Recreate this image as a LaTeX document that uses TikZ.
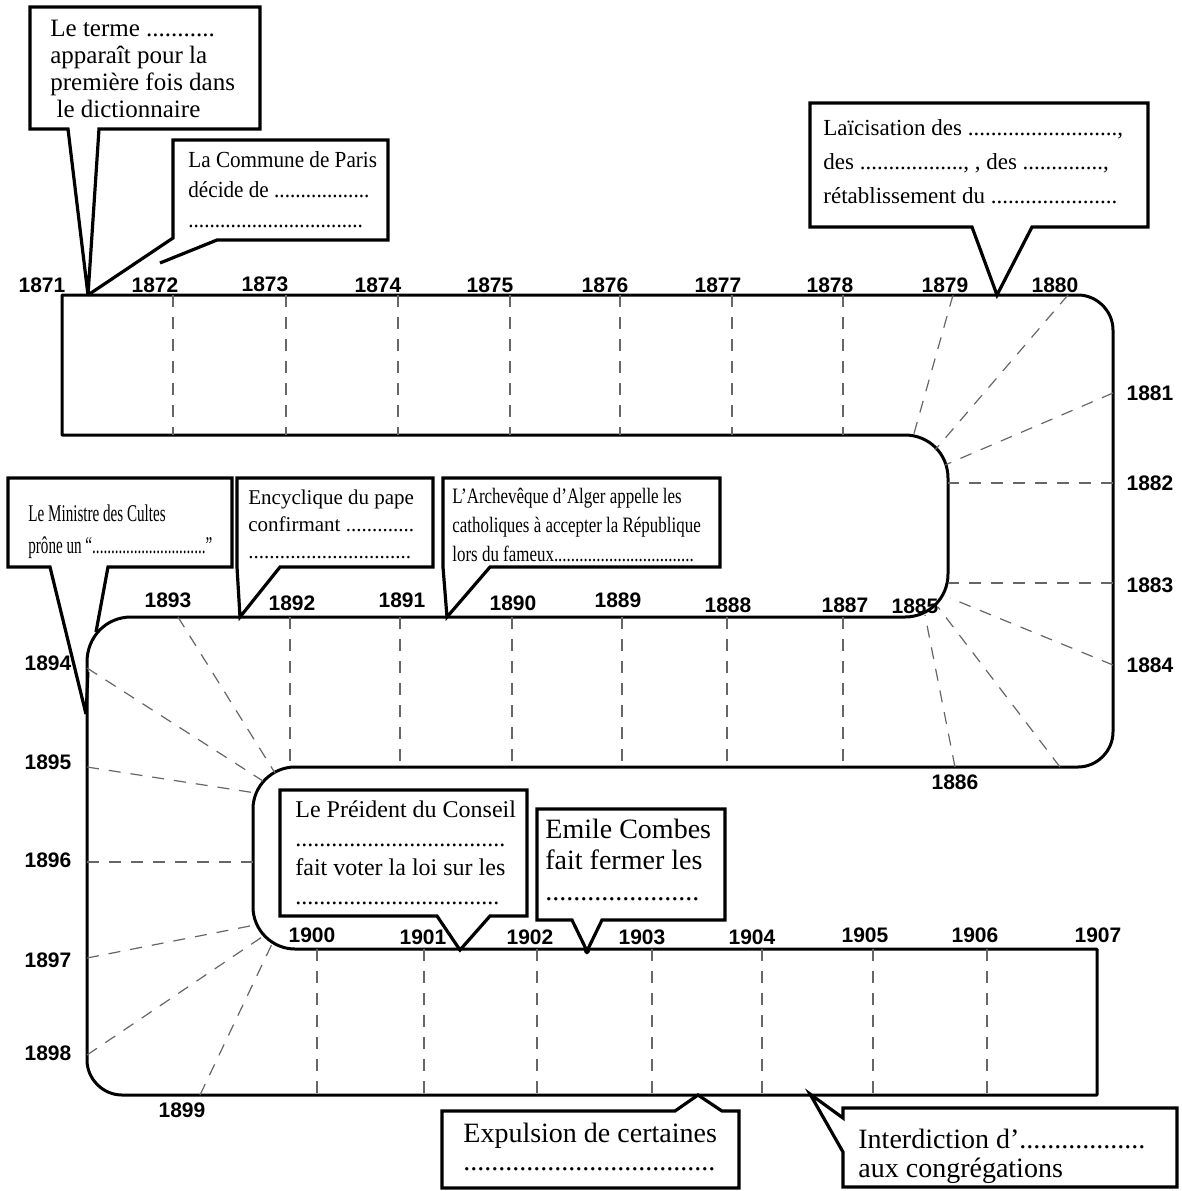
\documentclass[tikz,border=0pt]{standalone}
\usepackage{fontspec}
\setmainfont{Liberation Serif}
\newfontfamily\condA[FakeStretch=0.63]{Liberation Serif}
\newfontfamily\condB[FakeStretch=0.77]{Liberation Serif}
\newfontfamily\condC[FakeStretch=0.92]{Liberation Serif}
\newfontfamily\handyr{Liberation Sans}
\newcommand{\txtsize}[2]{\fontsize{#1pt}{#2pt}\selectfont}

\begin{document}
\begin{tikzpicture}[x=0.5pt, y=-0.5pt,
  band/.style={line width=1.5pt, line join=round},
  callout/.style={line width=1.6pt, line join=miter},
  gridline/.style={black!60, line width=0.6pt, dash pattern=on 6pt off 5pt},
  yr/.style={font=\handyr\bfseries\txtsize{10.5}{10.5}, inner sep=0pt},
  txt/.style={anchor=north west, align=left, inner sep=0pt}]

\useasboundingbox (0,0) rectangle (1182,1191);

% the band, one closed outline
\draw[band] (62,435) -- (62,295) -- (1078,295) .. controls (1097,295) and (1113,311) .. (1113,330)
  -- (1113,732) .. controls (1113,751) and (1097,767) .. (1078,767)
  -- (295,767) .. controls (272,767) and (253,786) .. (253,809)
  -- (253,907) .. controls (253,930) and (272,949) .. (295,949)
  -- (1097,949) -- (1097,1095)
  -- (122,1095) .. controls (103,1095) and (87,1079) .. (87,1060)
  -- (87,662) .. controls (87,637) and (106,617) .. (131,617)
  -- (905,617) .. controls (929,617) and (948,598) .. (948,574)
  -- (948,478) .. controls (948,454) and (929,435) .. (905,435)
  -- cycle;

% dashed year lines
\foreach \ax/\ay/\bx/\by in {173/295/173/435, 286/295/286/435, 398/295/398/435,
    510/295/510/435, 620/295/620/435, 732/295/732/435, 843/295/843/435,
    953/295/913/437, 1068/295/935/450, 1113/393/945/465, 1113/483/948/483,
    1113/583/948/583, 1113/665/950/598, 1060/767/938/607, 955/767/925/615,
    290/617/290/767, 400/617/400/767, 512/617/512/767, 622/617/622/767,
    727/617/727/767, 843/617/843/767, 178/617/275/773,
    87/668/263/781, 87/767/256/793, 87/862/253/862, 87/958/255/925,
    87/1055/262/937, 200/1095/272/944,
    317/949/317/1095, 424/949/424/1095, 537/949/537/1095, 652/949/652/1095,
    762/949/762/1095, 873/949/873/1095, 987/949/987/1095}
  \draw[gridline] (\ax,\ay) -- (\bx,\by);

% years
\foreach \yr/\px/\py in {1871/42/285, 1872/155/285, 1873/265/284, 1874/378/285,
    1875/490/285, 1876/605/285, 1877/718/285, 1878/830/285, 1879/945/285,
    1880/1055/285, 1881/1150/393, 1882/1150/483, 1883/1150/585, 1884/1150/665,
    1885/915/606, 1886/955/782, 1887/845/605, 1888/728/605, 1889/618/600,
    1890/513/603, 1891/402/600, 1892/292/603, 1893/168/600, 1894/48/663,
    1895/48/762, 1896/48/860, 1897/48/960, 1898/48/1053, 1899/182/1110,
    1900/312/935, 1901/423/937, 1902/530/937, 1903/642/937, 1904/752/937,
    1905/865/935, 1906/975/935, 1907/1098/935}
  \node[yr] (y\yr) at (\px,\py) {\yr};

% where the callouts point
\coordinate (t1871) at (88,295);
\coordinate (t1872) at (160,263);
\coordinate (t1879) at (997,295);
\coordinate (t1893) at (96,632);
\coordinate (t1894) at (86,714);
\coordinate (t1892) at (240,617);
\coordinate (t1891) at (447,617);
\coordinate (t1901) at (460,950);
\coordinate (t1902) at (587,951);
\coordinate (t1903) at (698,1095);
\coordinate (t1904) at (810,1094);

% callouts
\draw[callout] (30,7) -- (260,7) -- (260,129) -- (99,129) -- (t1871) -- (68,129) -- (30,129) -- cycle;
\node[txt, font=\txtsize{12.5}{13.5}] (terme) at (50,17)
  {\strut Le terme ...........\\apparaît pour la\\première fois dans\\\hspace*{0.25em}le dictionnaire};

\draw[callout] (t1872) -- (217,240) -- (388,240) -- (388,140) -- (173,140) -- (173,238) -- (t1871);
\node[txt, font=\condC\txtsize{11.5}{15}] (commune) at (188,146)
  {\strut La Commune de Paris\\décide de ..................\\.................................};

\draw[callout] (810,103) -- (1148,103) -- (1148,227) -- (1032,227) -- (t1879) -- (972,227) -- (810,227) -- cycle;
\node[txt, font=\txtsize{11.5}{17}] (laicite) at (823,111)
  {\strut Laïcisation des ..........................,\\des .................., , des ..............,\\rétablissement du ......................};

\draw[callout] (t1893) -- (108,567) -- (232,567) -- (232,478) -- (8,478) -- (8,567) -- (50,567) -- (t1894);
\draw[band] (t1894) -- (88,672);
\node[txt, font=\condA\txtsize{12}{16}] (ministre) at (28,499)
  {\strut Le Ministre des Cultes\\prône un “..............................”};

\draw[callout] (237,478) -- (433,478) -- (433,567) -- (280,567) -- (t1892) -- (237,567) -- cycle;
\node[txt, font=\txtsize{10.5}{13.5}] (encyclique) at (248,485)
  {\strut Encyclique du pape\\confirmant .............\\...............................};

\draw[callout] (443,478) -- (720,478) -- (720,567) -- (490,567) -- (t1891) -- (443,567) -- cycle;
\node[txt, font=\condB\txtsize{11}{14.5}] (alger) at (452,483)
  {\strut L’Archevêque d’Alger appelle les\\catholiques à accepter la République\\lors du fameux.................................};

\draw[callout] (280,790) -- (527,790) -- (527,916) -- (490,916) -- (t1901) -- (437,916) -- (280,916) -- cycle;
\node[txt, font=\txtsize{12}{14.5}] (conseil) at (295,797)
  {\strut Le Préident du Conseil\\...................................\\fait voter la loi sur les\\..................................};

\draw[callout] (537,809) -- (725,809) -- (725,920) -- (602,920) -- (t1902) -- (572,920) -- (537,920) -- cycle;
\fill (t1902) circle (3);
\node[txt, font=\txtsize{14}{15.5}] (combes) at (545,816)
  {\strut Emile Combes\\fait fermer les\\......................};

\draw[callout] (442,1111) -- (675,1111) -- (t1903) -- (722,1111) -- (739,1111) -- (739,1188) -- (442,1188) -- cycle;
\node[txt, font=\txtsize{14}{14}] (expulsion) at (463,1122)
  {\strut Expulsion de certaines\\....................................};

\draw[callout] (843,1108) -- (1177,1108) -- (1177,1187) -- (843,1187) -- (843,1152) -- (t1904) -- (843,1118) -- cycle;
\node[txt, font=\txtsize{14}{14.5}] (interdiction) at (858,1128)
  {\strut Interdiction d’..................\\aux congrégations};

\end{tikzpicture}
\end{document}
